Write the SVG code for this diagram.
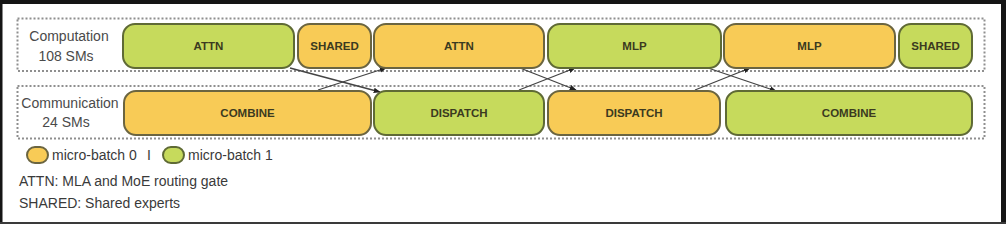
<svg xmlns="http://www.w3.org/2000/svg" width="1008" height="228" viewBox="0 0 1008 228">
<defs>
<style>
.grp{fill:none;stroke:#8f8f8f;stroke-width:2;stroke-dasharray:2 2}
.mb0{fill:#F8CB56;stroke:#6b6540;stroke-width:2}
.mb1{fill:#C6DA5C;stroke:#5f6a35;stroke-width:2}
.nl{font-family:"Liberation Sans",Arial,sans-serif;font-size:11.5px;font-weight:bold;fill:#3b3a20;text-anchor:middle}
.rl{font-family:"Liberation Sans",Arial,sans-serif;font-size:14px;fill:#4a4a4a;text-anchor:middle}
.lg{font-family:"Liberation Sans",Arial,sans-serif;font-size:14px;fill:#3a3a3a}
.cn{stroke:#444;stroke-width:1.3;fill:none;marker-end:url(#ah)}
</style>
<marker id="ah" viewBox="0 0 10 10" refX="9" refY="5" markerWidth="7" markerHeight="7" orient="auto" markerUnits="userSpaceOnUse">
<path d="M0,1 L10,5 L0,9 z" fill="#222"/>
</marker>
</defs>
<rect x="0" y="0" width="1008" height="228" fill="#ffffff"/>
<g id="frame">
<rect x="0" y="0" width="1006" height="4" fill="#151515"/>
<rect x="0" y="0" width="2.5" height="224" fill="#151515"/>
<rect x="1001" y="0" width="5" height="224" fill="#151515"/>
<rect x="0" y="222" width="1006" height="2" fill="#3a3a3a"/>
</g>
<g id="group-computation">
<rect class="grp" x="17.5" y="18.5" width="967" height="52.5"/>
<text class="rl" x="69" y="41">Computation</text>
<text class="rl" x="66" y="61">108 SMs</text>
</g>
<g id="group-communication">
<rect class="grp" x="17.5" y="86" width="967" height="52.5"/>
<text class="rl" x="70" y="108">Communication</text>
<text class="rl" x="66" y="127">24 SMs</text>
</g>
<g id="connectors">
<line class="cn" x1="290" y1="68" x2="380" y2="92"/>
<line class="cn" x1="318" y1="90" x2="386" y2="68"/>
<line class="cn" x1="520" y1="68" x2="576" y2="90"/>
<line class="cn" x1="519" y1="90" x2="575" y2="68"/>
<line class="cn" x1="708" y1="68" x2="776" y2="91"/>
<line class="cn" x1="695" y1="90" x2="750" y2="68"/>
</g>
<g id="c-attn-1">
<rect class="mb1" x="123" y="24" width="171" height="44" rx="12"/>
<text class="nl" x="208.5" y="50">ATTN</text>
</g>
<g id="c-shared-0">
<rect class="mb0" x="298" y="24" width="73" height="44" rx="12"/>
<text class="nl" x="334.5" y="50">SHARED</text>
</g>
<g id="c-attn-0">
<rect class="mb0" x="374" y="24" width="170" height="44" rx="12"/>
<text class="nl" x="459" y="50">ATTN</text>
</g>
<g id="c-mlp-1">
<rect class="mb1" x="548" y="24" width="173" height="44" rx="12"/>
<text class="nl" x="634.5" y="50">MLP</text>
</g>
<g id="c-mlp-0">
<rect class="mb0" x="724" y="24" width="171" height="44" rx="12"/>
<text class="nl" x="809.5" y="50">MLP</text>
</g>
<g id="c-shared-1">
<rect class="mb1" x="899" y="24" width="73" height="44" rx="12"/>
<text class="nl" x="935.5" y="50">SHARED</text>
</g>
<g id="m-combine-0">
<rect class="mb0" x="124" y="91" width="247" height="44" rx="12"/>
<text class="nl" x="247.5" y="117">COMBINE</text>
</g>
<g id="m-dispatch-1">
<rect class="mb1" x="374" y="91" width="170" height="44" rx="12"/>
<text class="nl" x="459" y="117">DISPATCH</text>
</g>
<g id="m-dispatch-0">
<rect class="mb0" x="548" y="91" width="172" height="44" rx="12"/>
<text class="nl" x="634" y="117">DISPATCH</text>
</g>
<g id="m-combine-1">
<rect class="mb1" x="726" y="91" width="246" height="44" rx="12"/>
<text class="nl" x="849" y="117">COMBINE</text>
</g>
<g id="legend">
<rect class="mb0" x="27" y="147" width="21" height="16" rx="8"/>
<text class="lg" x="52" y="160">micro-batch 0</text>
<text class="lg" x="147" y="160">I</text>
<rect class="mb1" x="163" y="147" width="21" height="16" rx="8"/>
<text class="lg" x="188" y="160">micro-batch 1</text>
<text class="lg" x="19" y="186">ATTN: MLA and MoE routing gate</text>
<text class="lg" x="19" y="208">SHARED: Shared experts</text>
</g>
</svg>
